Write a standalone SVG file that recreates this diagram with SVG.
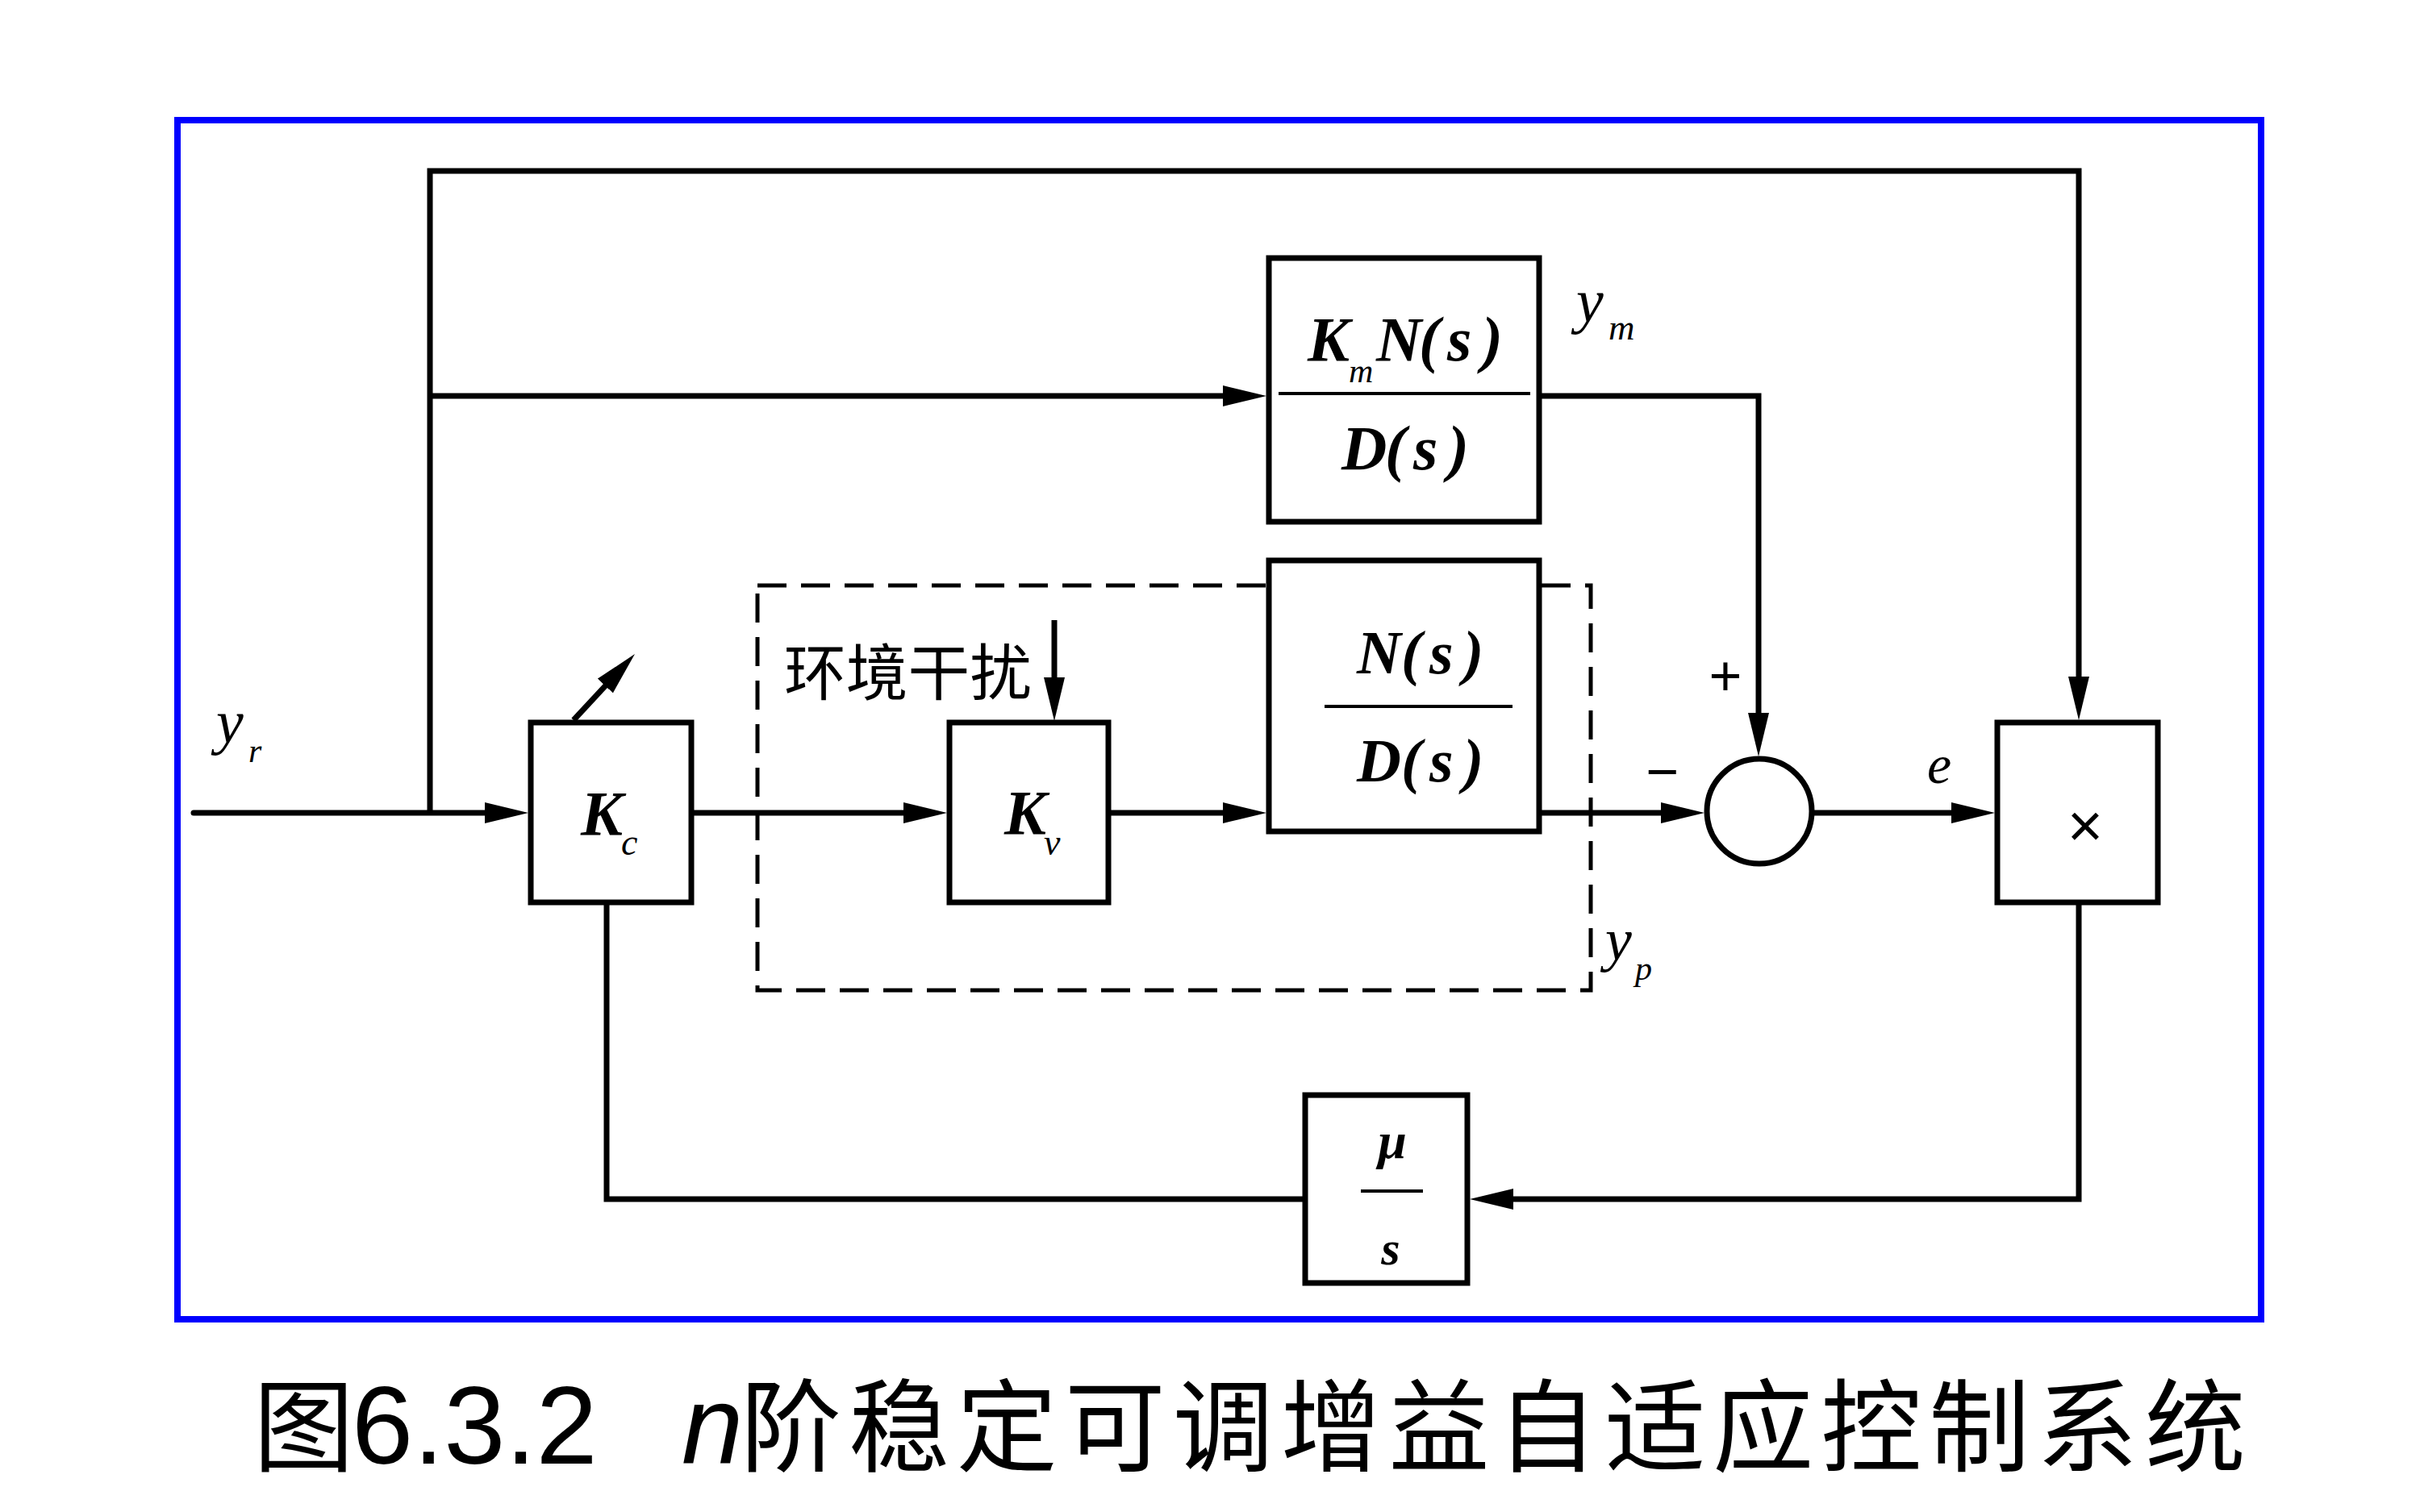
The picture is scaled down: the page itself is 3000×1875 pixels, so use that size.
<svg xmlns="http://www.w3.org/2000/svg" width="3000" height="1875" viewBox="0 0 3000 1875">
<style>
.box{fill:#fff;stroke:#000;stroke-width:7}
.ln{fill:none;stroke:#000;stroke-width:7}
.frac{stroke:#000;stroke-width:4}
.m{font-family:"Liberation Serif",serif;font-style:italic;font-weight:bold;fill:#000}
.v{font-family:"Liberation Serif",serif;font-style:italic;fill:#000}
.s{font-family:"Liberation Sans",sans-serif;fill:#000}
.cjk{font-family:"Noto Sans CJK SC",sans-serif;fill:#000}
</style>
<defs>
<marker id="ah" markerUnits="userSpaceOnUse" markerWidth="54" markerHeight="26" refX="24" refY="13" orient="auto" viewBox="0 0 54 26">
<path d="M0,0 L54,13 L0,26 z" fill="#000"/>
</marker>
</defs>
<rect x="0" y="0" width="3000" height="1875" fill="#fff"/>
<rect id="frame" x="220" y="149" width="2583" height="1487" fill="none" stroke="#0000ff" stroke-width="8"/>

<g id="plant-boundary">
<rect x="939" y="726" width="1033" height="502" fill="none" stroke="#000" stroke-width="5" stroke-dasharray="36 18"/>
</g>

<g id="connectors">
<path class="ln" d="M533,1008 V212 H2577 V863" marker-end="url(#ah)"/>
<path class="ln" d="M533,491 H1540" marker-end="url(#ah)"/>
<path class="ln" d="M1908,491 H2180 V908" marker-end="url(#ah)"/>
<path class="ln" d="M240,1008 H625" stroke-linecap="round" marker-end="url(#ah)"/>
<path class="ln" d="M857,1008 H1144" marker-end="url(#ah)"/>
<path class="ln" d="M1374,1008 H1540" marker-end="url(#ah)"/>
<path class="ln" d="M1908,1008 H2083" marker-end="url(#ah)"/>
<path class="ln" d="M2246,1008 H2443" marker-end="url(#ah)"/>
<path class="ln" d="M2577,1119 V1487 H1852" marker-end="url(#ah)"/>
<path class="ln" d="M1618,1487 H752 V1119"/>
<path class="ln" d="M1307,769 V864" stroke-width="6" marker-end="url(#ah)"/>
<path class="ln" d="M711,893 L766.6,833" stroke-width="6" marker-end="url(#ah)"/>
</g>

<g id="model">
<rect class="box" x="1573" y="320" width="335" height="327"/>
<line class="frac" x1="1585" y1="488" x2="1897" y2="488"/>
<text class="m" font-size="78" x="1621" y="447">K</text>
<text class="v" font-size="42" x="1672" y="474">m</text>
<text class="m" font-size="78" x="1706 1759 1794 1837" y="447">N(s)</text>
<text class="m" font-size="78" x="1663 1717 1752 1795" y="582">D(s)</text>
</g>

<g id="plant">
<rect class="box" x="1573" y="695" width="335" height="336"/>
<line class="frac" x1="1642" y1="876" x2="1875" y2="876"/>
<text class="m" font-size="76" x="1682 1737 1772 1814" y="835">N(s)</text>
<text class="m" font-size="76" x="1682 1737 1772 1814" y="969">D(s)</text>
</g>

<g id="Kc">
<rect class="box" x="658" y="896" width="199" height="223"/>
<text class="m" font-size="78" x="720" y="1035">K</text>
<text class="v" font-size="46" x="770" y="1060">c</text>
</g>

<g id="Kv">
<rect class="box" x="1177" y="896" width="197" height="223"/>
<text class="m" font-size="78" x="1245" y="1034">K</text>
<text class="v" font-size="46" x="1294" y="1060">v</text>
</g>

<g id="sum">
<circle cx="2181" cy="1006" r="65" fill="#fff" stroke="#000" stroke-width="7"/>
</g>

<g id="mult">
<rect class="box" x="2476" y="896" width="199" height="223"/>
<text class="s" font-size="76" x="2585" y="1050" text-anchor="middle">×</text>
</g>

<g id="integrator">
<rect class="box" x="1618" y="1358" width="201" height="233"/>
<line class="frac" x1="1687" y1="1477" x2="1764" y2="1477"/>
<text class="m" font-size="64" x="1726" y="1436" text-anchor="middle">μ</text>
<text class="m" font-size="60" x="1724" y="1568" text-anchor="middle">s</text>
</g>

<g id="labels">
<text class="v" font-size="76" x="268" y="921">y</text>
<text class="v" font-size="42" x="308" y="945">r</text>
<text class="v" font-size="76" x="1954" y="399">y</text>
<text class="v" font-size="45" x="1994" y="421">m</text>
<text class="v" font-size="74" x="1990" y="1190">y</text>
<text class="v" font-size="42" x="2027" y="1215">p</text>
<text class="v" font-size="68" x="2389" y="971">e</text>
<text class="s" font-size="70" x="2139" y="862" text-anchor="middle">+</text>
<text class="s" font-size="70" x="2061" y="981" text-anchor="middle">−</text>
<text class="cjk" font-size="76" x="972" y="862" textLength="307" lengthAdjust="spacingAndGlyphs">环境干扰</text>
</g>

<g id="caption">
<text class="cjk" font-size="125" x="314" y="1815">图</text>
<text class="s" font-size="137" x="436" y="1815">6.3.2</text>
<text class="s" font-size="137" font-style="italic" x="845" y="1815">n</text>
<text class="cjk" font-size="125" x="918" y="1815" textLength="1866" lengthAdjust="spacing">阶稳定可调增益自适应控制系统</text>
</g>
</svg>
